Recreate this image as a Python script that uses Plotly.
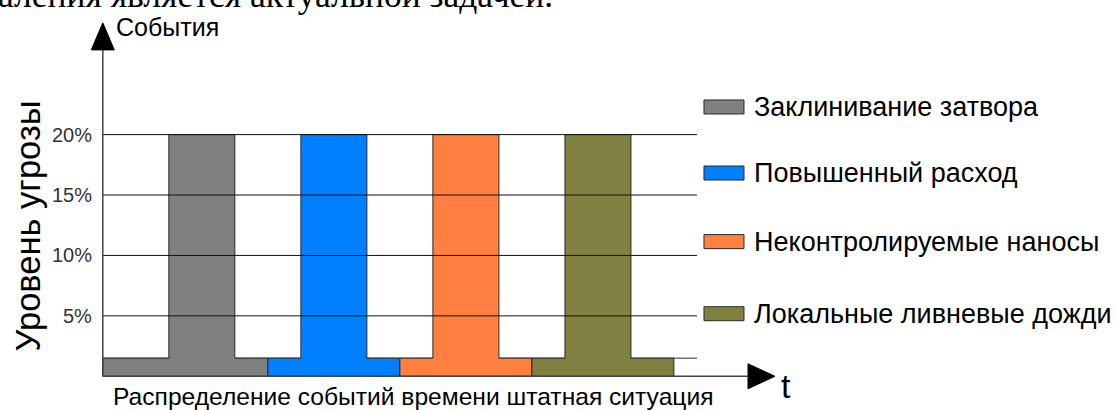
import plotly.graph_objects as go

# ---------------- data ----------------
series_names = ["Заклинивание затвора", "Повышенный расход",
                "Неконтролируемые наносы", "Локальные ливневые дожди"]
series_colors = ["#808080", "#0080FF", "#FF8040", "#808040"]
segment_start = [0.0, 2.5, 4.5, 6.5]      # t where each event's base strip starts
segment_end = [2.5, 4.5, 6.5, 8.65]       # t where each event's base strip ends
peak_start = [1.0, 3.0, 5.0, 7.0]
peak_end = [2.0, 4.0, 6.0, 8.0]
peak_level = [20, 20, 20, 20]             # %
base_level = [1.5, 1.5, 1.5, 1.5]         # %
y_ticks = [5, 10, 15, 20]
y_tick_labels = ["5%", "10%", "15%", "20%"]
timeline_end = 9.0

y_title = "Уровень угрозы"
y_arrow_label = "События"
x_arrow_label = "t"
x_caption = "Распределение событий времени штатная ситуация"
doc_text = "аления является актуальной задачей."

# ---------------- layout geometry ----------------
W, H = 1116, 410
X0_PX, PX_PER_T = 103.0, 66.0
Y0_PX, PX_PER_PCT = 376.0, 12.07
x_range = [-0.3, 10.5]
y_range = [-1.3, 29.4]

m_l = X0_PX + x_range[0] * PX_PER_T
plot_w = (x_range[1] - x_range[0]) * PX_PER_T
m_r = W - m_l - plot_w
m_b = H - (Y0_PX - y_range[0] * PX_PER_PCT)
plot_h = (y_range[1] - y_range[0]) * PX_PER_PCT
m_t = H - m_b - plot_h


def tx(px):
    return (px - X0_PX) / PX_PER_T


def ty(py):
    return (Y0_PX - py) / PX_PER_PCT


def paper_x(px):
    return (px - m_l) / plot_w


def paper_y(py):
    return ((H - m_b) - py) / plot_h


FONT = "Liberation Sans, Arial, sans-serif"
OUTLINE = "#2a2a2a"

fig = go.Figure()

# event shapes (base strip + peak)
for name, col, s, e, p0, p1, h, b in zip(series_names, series_colors, segment_start,
                                         segment_end, peak_start, peak_end,
                                         peak_level, base_level):
    xs = [s, s, p0, p0, p1, p1, e, e, s]
    ys = [0, b, b, h, h, b, b, 0, 0]
    fig.add_trace(go.Scatter(x=xs, y=ys, mode="lines", fill="toself",
                             fillcolor=col, line=dict(color=OUTLINE, width=1),
                             name=name, hoverinfo="skip", showlegend=False))

shapes = []
# base level line across the timeline (under the fills)
shapes.append(dict(type="line", xref="x", yref="y", x0=0, x1=timeline_end,
                   y0=base_level[0], y1=base_level[0], layer="below",
                   line=dict(color=OUTLINE, width=1)))
# grid lines (over the fills)
for v in y_ticks:
    shapes.append(dict(type="line", xref="x", yref="y", x0=0, x1=timeline_end,
                       y0=v, y1=v, layer="above", line=dict(color="#111111", width=1)))

# axes with arrows
AX_COL = "#444444"
y_arrow_base, y_arrow_tip = ty(50), ty(23)
x_arrow_base, x_arrow_tip = tx(748), tx(775)
shapes.append(dict(type="line", xref="x", yref="y", x0=0, x1=0, y0=0, y1=y_arrow_base,
                   layer="above", line=dict(color=AX_COL, width=1.5)))
shapes.append(dict(type="line", xref="x", yref="y", x0=0, x1=x_arrow_base, y0=0, y1=0,
                   layer="above", line=dict(color=AX_COL, width=1.5)))
hw = 11.5 / PX_PER_T
shapes.append(dict(type="path", xref="x", yref="y", layer="above",
                   path=f"M {-hw},{y_arrow_base} L {hw},{y_arrow_base} L 0,{y_arrow_tip} Z",
                   fillcolor="black", line=dict(color="black", width=1)))
hh = 12.5 / PX_PER_PCT
shapes.append(dict(type="path", xref="x", yref="y", layer="above",
                   path=f"M {x_arrow_base},{-hh} L {x_arrow_base},{hh} L {x_arrow_tip},0 Z",
                   fillcolor="black", line=dict(color="black", width=1)))

annotations = []


def add_text(px, py, text, size, xanchor="center", yanchor="middle", angle=0,
             family=FONT, color="black"):
    annotations.append(dict(x=paper_x(px), y=paper_y(py), xref="paper", yref="paper",
                            text=text, showarrow=False, xanchor=xanchor,
                            yanchor=yanchor, textangle=angle,
                            font=dict(family=family, size=size, color=color)))


# tick labels (placed at the tick values through the y scale)
for v, lab in zip(y_ticks, y_tick_labels):
    annotations.append(dict(x=tx(94), y=v, xref="x", yref="y", text=lab, showarrow=False,
                            xanchor="right", yanchor="middle",
                            font=dict(family=FONT, size=20, color="#333333")))

# legend
legend_rows_px = [107, 173, 241.5, 313.5]
for name, col, cy in zip(series_names, series_colors, legend_rows_px):
    shapes.append(dict(type="rect", xref="x", yref="y", x0=tx(704), x1=tx(744),
                       y0=ty(cy + 7), y1=ty(cy - 7), layer="above",
                       fillcolor=col, line=dict(color=OUTLINE, width=1)))
    add_text(752, cy, name, 27, xanchor="left")

# texts
add_text(114, 27, y_arrow_label, 25, xanchor="left")
add_text(28, 225.5, y_title, 34.5, angle=-90)
add_text(413, 396, x_caption, 24.6)
add_text(786, 386, x_arrow_label, 34)
# text of the surrounding document, cut off by the top edge as in the original
add_text(-4, 17, doc_text, 35.5, xanchor="left", yanchor="bottom",
         family="Liberation Serif, Times New Roman, serif")

fig.update_layout(
    width=W, height=H,
    margin=dict(l=m_l, r=m_r, t=m_t, b=m_b, pad=0),
    paper_bgcolor="white", plot_bgcolor="white",
    xaxis=dict(range=x_range, visible=False, fixedrange=True),
    yaxis=dict(range=y_range, visible=False, fixedrange=True),
    shapes=shapes, annotations=annotations,
    showlegend=False,
)

fig.write_html("out.html")
